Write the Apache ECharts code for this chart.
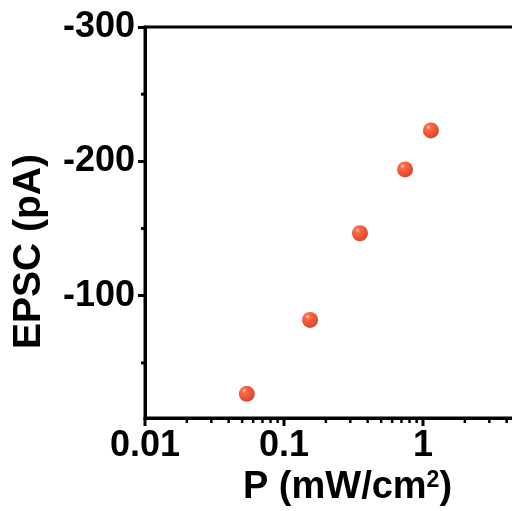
<!DOCTYPE html>
<html><head><meta charset="utf-8">
<script src="https://cdn.jsdelivr.net/npm/echarts@6/dist/echarts.min.js"></script>
<style>html,body{margin:0;padding:0;background:#fff}#c{width:512px;height:511px}</style>
</head><body><div id="c"></div>
<script>
const powerValues = [0.054, 0.154, 0.352, 0.743, 1.14];
const epscValues = [-27, -82, -146.5, -194, -223];
const xMajorTicks = [0.01, 0.1, 1, 10];
const xMinorTicks = [0.02,0.03,0.04,0.05,0.06,0.07,0.08,0.09,0.2,0.3,0.4,0.5,0.6,0.7,0.8,0.9,2,3,4,5,6,7,8,9];
const yMinorTicks = [-250, -150, -50];

const chart = echarts.init(document.getElementById('c'));
const font = 'Liberation Sans, Arial, sans-serif';
const ball = new echarts.graphic.RadialGradient(0.35, 0.3, 0.65, [
  {offset: 0, color: '#ffe0d6'},
  {offset: 0.22, color: '#ff4418'},
  {offset: 0.7, color: '#f02800'},
  {offset: 1, color: '#c82000'}
]);
const xMin = 0.01, xMax = 10, yMin = -300, yMax = -9;
chart.setOption({
  animation: false,
  grid: {left: 145, top: 27, right: -50, bottom: 93, outerBoundsMode: 'none', containLabel: false, show: true, borderColor: '#000', borderWidth: 3},
  xAxis: [{
    type: 'log', logBase: 10, min: xMin, max: xMax, interval: 1,
    name: 'P (mW/cm{s|2})', nameLocation: 'middle', nameGap: 48,
    nameTextStyle: {color: '#000', fontFamily: font, fontWeight: 'bold', fontSize: 38, padding: [0, 12, 0, 0],
      rich: {s: {fontSize: 23, fontWeight: 'bold', fontFamily: font, color: '#000', verticalAlign: 'top', padding: [0,0,14,0]}}},
    axisLine: {show: true, onZero: false, lineStyle: {color: '#000', width: 3}},
    axisTick: {show: false},
    axisLabel: {color: '#000', fontFamily: font, fontWeight: 'bold', fontSize: 36, margin: 10, interval: 0,
      showMinLabel: true, formatter: v => String(parseFloat(Number(v).toPrecision(6)))},
    splitLine: {show: false}
  }],
  yAxis: [{
    type: 'value', min: yMin, max: yMax, interval: 100, inverse: true,
    name: 'EPSC (pA)', nameLocation: 'middle', nameGap: 96, nameRotate: 90,
    nameTextStyle: {color: '#000', fontFamily: font, fontWeight: 'bold', fontSize: 39, padding: [0, 58, 0, 0]},
    axisLine: {show: true, onZero: false, lineStyle: {color: '#000', width: 3}},
    axisTick: {show: true, length: 7, lineStyle: {color: '#000', width: 3}},
    axisLabel: {color: '#000', fontFamily: font, fontWeight: 'bold', fontSize: 36, margin: 10, showMaxLabel: false},
    splitLine: {show: false}
  }],
  series: [
    {
      type: 'custom', xAxisIndex: 0, yAxisIndex: 0, clip: false, silent: true, z: 5,
      data: yMinorTicks.map(v => [xMin, v]),
      renderItem: (params, api) => {
        const p = api.coord([api.value(0), api.value(1)]);
        return {type: 'line', shape: {x1: p[0], y1: p[1], x2: p[0] - 4, y2: p[1]},
          style: {stroke: '#000', lineWidth: 3}};
      }
    },
    {
      type: 'scatter', xAxisIndex: 0, yAxisIndex: 0,
      data: powerValues.map((p, i) => [p, epscValues[i]]),
      symbol: 'circle', symbolSize: 16,
      itemStyle: {color: ball}
    }
  ]
});
// x-axis tick marks placed through the chart's own log scale
const tickLine = (v, len, w) => {
  const p = chart.convertToPixel({xAxisIndex: 0, yAxisIndex: 0}, [v, yMax]);
  return {type: 'line', zlevel: 10, z: 100, silent: true,
    shape: {x1: p[0], y1: p[1], x2: p[0], y2: p[1] + len},
    style: {stroke: '#000', lineWidth: w}};
};
chart.setOption({
  graphic: {elements: [
    ...xMajorTicks.map(v => tickLine(v, 8, 3)),
    ...xMinorTicks.map(v => tickLine(v, 5, 2.5))
  ]}
});
</script></body></html>
